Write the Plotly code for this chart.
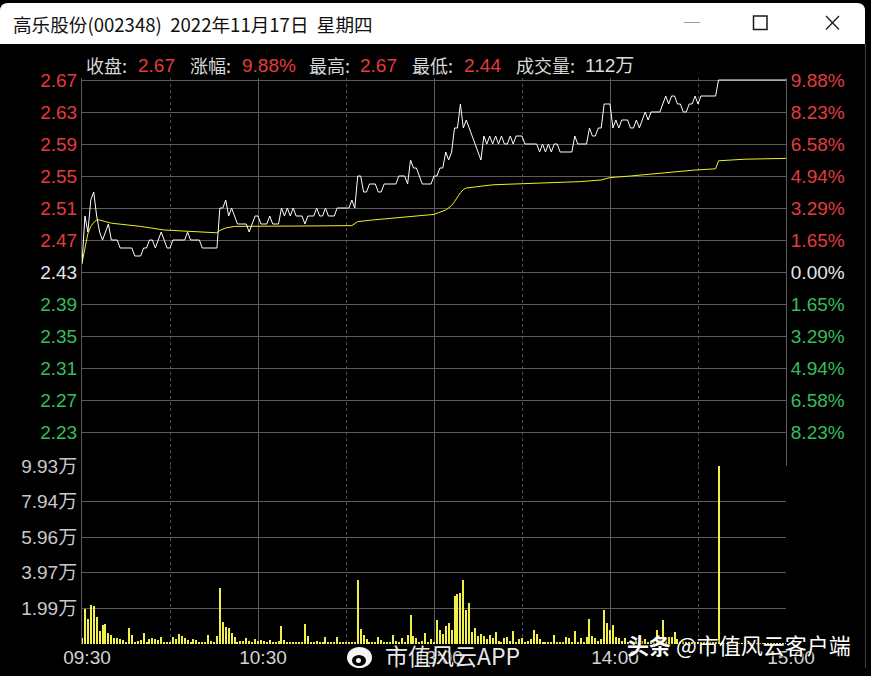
import plotly.graph_objects as go

# ---- data ----
minutes = list(range(241))

price = [
    2.44, 2.50, 2.48, 2.52, 2.53, 2.50, 2.48, 2.47, 2.48, 2.49,
    2.47, 2.47, 2.47, 2.46, 2.46, 2.46, 2.46, 2.46, 2.45, 2.45,
    2.45, 2.46, 2.46, 2.47, 2.47, 2.46, 2.47, 2.48, 2.47, 2.46,
    2.46, 2.47, 2.47, 2.47, 2.47, 2.47, 2.48, 2.47, 2.47, 2.47,
    2.47, 2.46, 2.46, 2.46, 2.46, 2.46, 2.46, 2.51, 2.51, 2.52,
    2.50, 2.51, 2.50, 2.49, 2.49, 2.49, 2.49, 2.48, 2.49, 2.50,
    2.50, 2.49, 2.49, 2.49, 2.50, 2.49, 2.49, 2.49, 2.51, 2.50,
    2.51, 2.50, 2.51, 2.50, 2.50, 2.50, 2.49, 2.50, 2.50, 2.50,
    2.51, 2.50, 2.50, 2.51, 2.50, 2.50, 2.50, 2.51, 2.51, 2.51,
    2.51, 2.51, 2.52, 2.51, 2.55, 2.55, 2.53, 2.53, 2.54, 2.54,
    2.54, 2.53, 2.53, 2.54, 2.54, 2.54, 2.54, 2.54, 2.55, 2.55,
    2.55, 2.54, 2.57, 2.56, 2.56, 2.55, 2.54, 2.54, 2.54, 2.54,
    2.55, 2.55, 2.56, 2.56, 2.58, 2.57, 2.58, 2.61, 2.61, 2.64,
    2.61, 2.62, 2.61, 2.60, 2.59, 2.58, 2.57, 2.60, 2.59, 2.60,
    2.59, 2.60, 2.59, 2.60, 2.59, 2.59, 2.60, 2.59, 2.60, 2.60,
    2.60, 2.59, 2.59, 2.59, 2.59, 2.59, 2.58, 2.59, 2.58, 2.59,
    2.58, 2.59, 2.59, 2.58, 2.58, 2.58, 2.58, 2.58, 2.60, 2.59,
    2.59, 2.59, 2.59, 2.61, 2.60, 2.60, 2.61, 2.61, 2.64, 2.64,
    2.64, 2.61, 2.62, 2.61, 2.62, 2.62, 2.62, 2.61, 2.61, 2.62,
    2.61, 2.62, 2.63, 2.62, 2.63, 2.63, 2.63, 2.63, 2.64, 2.65,
    2.64, 2.65, 2.65, 2.64, 2.64, 2.63, 2.63, 2.64, 2.64, 2.65,
    2.64, 2.65, 2.65, 2.65, 2.65, 2.65, 2.65, 2.67, 2.67, 2.67,
    2.67, 2.67, 2.67, 2.67, 2.67, 2.67, 2.67, 2.67, 2.67, 2.67,
    2.67, 2.67, 2.67, 2.67, 2.67, 2.67, 2.67, 2.67, 2.67, 2.67,
    2.67,
]

avg_minutes = [0, 1, 2, 3, 4, 5, 6, 8, 10, 15, 20, 28, 35, 40, 46, 47, 49, 52, 60, 75,
               92, 94, 99, 110, 120, 124, 126, 127, 128, 129, 130, 131, 140, 154, 170,
               177, 180, 187, 198, 209, 216, 217, 226, 240]
avg_price = [2.441, 2.462, 2.478, 2.487, 2.492, 2.495, 2.495, 2.493, 2.491, 2.489,
             2.487, 2.4825, 2.481, 2.480, 2.479, 2.482, 2.485, 2.487, 2.4875, 2.4875,
             2.488, 2.493, 2.495, 2.499, 2.502, 2.5075, 2.513, 2.518, 2.524, 2.529,
             2.533, 2.535, 2.539, 2.541, 2.543, 2.545, 2.548, 2.550, 2.554, 2.5575,
             2.559, 2.569, 2.571, 2.572]

# volume in 万 shares per minute
volume = [
    0.32, 1.93, 1.38, 2.18, 2.12, 1.49, 0.73, 1.06, 1.12, 0.63,
    0.50, 0.32, 0.32, 0.26, 0.22, 0.13, 0.87, 0.50, 0.13, 0.19,
    0.22, 0.60, 0.09, 0.26, 0.32, 0.26, 0.22, 0.37, 0.13, 0.09,
    0.13, 0.37, 0.26, 0.56, 0.45, 0.32, 0.22, 0.13, 0.26, 0.22,
    0.07, 0.07, 0.07, 0.50, 0.19, 0.13, 0.45, 3.12, 1.21, 0.97,
    0.87, 0.60, 0.41, 0.13, 0.19, 0.19, 0.32, 0.19, 0.13, 0.26,
    0.19, 0.22, 0.17, 0.13, 0.22, 0.09, 0.07, 0.17, 1.00, 0.22,
    0.13, 0.13, 0.07, 0.07, 0.07, 0.09, 1.12, 0.45, 0.13, 0.13,
    0.19, 0.13, 0.13, 0.37, 0.07, 0.07, 0.13, 0.37, 0.13, 0.07,
    0.07, 0.07, 0.09, 0.13, 3.57, 0.82, 0.50, 0.26, 0.13, 0.07,
    0.09, 0.37, 0.22, 0.07, 0.07, 0.13, 0.50, 0.19, 0.09, 0.32,
    0.07, 0.50, 1.62, 0.45, 0.32, 0.13, 0.19, 0.60, 0.13, 0.26,
    0.07, 1.34, 0.78, 0.56, 1.00, 1.15, 0.78, 2.68, 2.79, 2.83,
    3.57, 1.90, 2.27, 0.69, 0.87, 0.45, 0.56, 0.45, 0.26, 0.50,
    0.32, 0.67, 0.19, 0.13, 0.32, 0.41, 0.19, 0.73, 0.13, 0.26,
    0.32, 0.13, 0.19, 0.26, 0.78, 0.56, 0.26, 0.07, 0.13, 0.13,
    0.07, 0.50, 0.07, 0.07, 0.13, 0.37, 0.32, 0.13, 0.73, 0.13,
    0.32, 0.07, 0.41, 1.38, 0.45, 0.32, 0.19, 0.26, 1.90, 1.19,
    0.78, 1.06, 0.41, 0.32, 0.19, 0.32, 0.13, 0.19, 0.13, 0.22,
    0.13, 0.19, 0.26, 0.13, 0.19, 0.13, 0.78, 0.32, 1.34, 0.32,
    0.41, 0.41, 0.69, 0.26, 0.13, 0.19, 0.09, 0.13, 0.07, 0.13,
    0.09, 0.13, 0.07, 0.07, 0.09, 0.07, 0.07, 9.93, 0.04, 0.04,
    0.04, 0.04, 0.04, 0.04, 0.04, 0.04, 0.04, 0.04, 0.04, 0.04,
    0.04, 0.04, 0.04, 0.04, 0.04, 0.04, 0.04, 0.04, 0.04, 0.04,
    0.04,
]

prev_close = 2.43
price_ticks = [2.67, 2.63, 2.59, 2.55, 2.51, 2.47, 2.43, 2.39, 2.35, 2.31, 2.27, 2.23]
pct_labels = ['9.88%', '8.23%', '6.58%', '4.94%', '3.29%', '1.65%', '0.00%',
              '1.65%', '3.29%', '4.94%', '6.58%', '8.23%']
vol_ticks = [1.99, 3.97, 5.96, 7.94, 9.93]
vol_labels = ['1.99万', '3.97万', '5.96万', '7.94万', '9.93万']
time_ticks = [0, 60, 120, 180, 240]
time_labels = ['09:30', '10:30', '13:00', '14:00', '15:00']
half_ticks = [30, 90, 150, 210]

title_text = '高乐股份(002348)\u00a0\u00a02022年11月17日\u00a0\u00a0星期四'
info_labels = ['收盘:', '涨幅:', '最高:', '最低:', '成交量:']
info_values = ['2.67', '9.88%', '2.67', '2.44', '112万']

# ---- geometry / style ----
W, H = 871, 676
ML, MR, MT, MB = 82, 85, 78, 32
PW, PH = W - ML - MR, H - MT - MB

RED = '#e23c3c'
GREEN = '#35bd5c'
WHITE = '#e6e6e6'
GRID = '#5c5c5c'
NUM_FONT = 'Liberation Sans, Arial, sans-serif'
CJK_FONT = 'Noto Sans CJK SC, sans-serif'
MIX_FONT = 'Liberation Sans, Noto Sans CJK SC, sans-serif'


def px(x):
    return (x - ML) / PW


def py(y):
    return (H - MB - y) / PH


def tick_color(p):
    if p > prev_close + 1e-9:
        return RED
    if p < prev_close - 1e-9:
        return GREEN
    return WHITE


left_text = [f'<span style="color:{tick_color(p)}">{p:.2f}</span>' for p in price_ticks]
right_text = [f'<span style="color:{tick_color(p)}">{t}</span>' for p, t in zip(price_ticks, pct_labels)]

split = py(466)
k = 0.00125
price_range = [2.67 - (466 - 80) * k, 2.67 + 2 * k]

fig = go.Figure()

fig.add_trace(go.Bar(
    x = minutes, y = volume, width = 0.34,
    marker = dict(color = '#f0f048', line = dict(width = 0)),
    xaxis = 'x2', yaxis = 'y2', showlegend = False,
))

fig.add_trace(go.Scatter(
    x = avg_minutes, y = avg_price, mode = 'lines',
    line = dict(color = '#f0f020', width = 1),
    xaxis = 'x', yaxis = 'y', showlegend = False,
))

fig.add_trace(go.Scatter(
    x = minutes, y = price, mode = 'lines',
    line = dict(color = '#ffffff', width = 1),
    xaxis = 'x', yaxis = 'y', showlegend = False,
))

# invisible trace so the right-hand percent axis is drawn
fig.add_trace(go.Scatter(
    x = minutes, y = price, mode = 'lines', opacity = 0,
    xaxis = 'x', yaxis = 'y3', showlegend = False, hoverinfo = 'skip',
))

xcommon = dict(
    range = [0, 240], tickvals = time_ticks, showgrid = True,
    gridcolor = GRID, gridwidth = 1, zeroline = False, showline = False,
    minor = dict(tickvals = half_ticks, showgrid = True, gridcolor = '#4a4a4a',
                 griddash = 'dot', gridwidth = 1),
)

fig.update_layout(
    width = W, height = H,
    margin = dict(l = ML, r = MR, t = MT, b = MB, autoexpand = False),
    paper_bgcolor = '#000000', plot_bgcolor = '#000000',
    bargap = 0,
    xaxis = dict(xcommon, anchor = 'y', showticklabels = False, domain = [0, 1]),
    xaxis2 = dict(xcommon, anchor = 'y2', domain = [0, 1], ticktext = time_labels,
                  tickfont = dict(family = NUM_FONT, size = 19, color = '#d4d4d4'),
                  ticks = '', ticklabelstandoff = 0, ticklabelshift = 5),
    yaxis = dict(domain = [split, 1], range = price_range, tickvals = price_ticks,
                 ticktext = left_text, showgrid = True, gridcolor = GRID, zeroline = False,
                 showline = True, linecolor = GRID, ticks = '',
                 tickfont = dict(family = NUM_FONT, size = 19)),
    yaxis3 = dict(overlaying = 'y', side = 'right', anchor = 'x', range = price_range,
                  tickvals = price_ticks, ticktext = right_text, showgrid = False,
                  zeroline = False, showline = True, linecolor = GRID, ticks = '',
                  tickfont = dict(family = NUM_FONT, size = 19)),
    yaxis2 = dict(domain = [0, split], range = [0, 9.93], tickvals = vol_ticks,
                  ticktext = vol_labels, showgrid = True, gridcolor = GRID,
                  zeroline = False, showline = True, linecolor = GRID, ticks = '',
                  tickfont = dict(family = MIX_FONT, size = 19, color = '#c8c8cc')),
)

shapes = []
# title bar of the window
r = 8
x0, x1, y0, y1 = 0, 865, 3, 44
shapes.append(dict(
    type = 'path', xref = 'paper', yref = 'paper', fillcolor = '#ffffff', line = dict(width = 0),
    path = (f'M {px(x0)},{py(y1)} L {px(x0)},{py(y0 + r)} Q {px(x0)},{py(y0)} {px(x0 + r)},{py(y0)} '
            f'L {px(x1 - r)},{py(y0)} Q {px(x1)},{py(y0)} {px(x1)},{py(y0 + r)} L {px(x1)},{py(y1)} Z'),
))
# window controls
shapes.append(dict(type = 'line', xref = 'paper', yref = 'paper', x0 = px(684), x1 = px(700),
                   y0 = py(22.5), y1 = py(22.5), line = dict(color = '#9a9a9a', width = 1)))
shapes.append(dict(type = 'rect', xref = 'paper', yref = 'paper', x0 = px(753.5), x1 = px(767),
                   y0 = py(29.5), y1 = py(16), line = dict(color = '#1a1a1a', width = 1.5)))
shapes.append(dict(type = 'line', xref = 'paper', yref = 'paper', x0 = px(826), x1 = px(839),
                   y0 = py(16), y1 = py(29.5), line = dict(color = '#1a1a1a', width = 1.3)))
shapes.append(dict(type = 'line', xref = 'paper', yref = 'paper', x0 = px(826), x1 = px(839),
                   y0 = py(29.5), y1 = py(16), line = dict(color = '#1a1a1a', width = 1.3)))
# window right border
shapes.append(dict(type = 'line', xref = 'paper', yref = 'paper', x0 = px(865.5), x1 = px(865.5),
                   y0 = py(44), y1 = py(668), line = dict(color = '#3a3a3a', width = 1.2)))
# weibo logo of the watermark
shapes.append(dict(type = 'circle', xref = 'paper', yref = 'paper', x0 = px(347), x1 = px(372),
                   y0 = py(668), y1 = py(647), fillcolor = '#f4f4f4', line = dict(width = 0)))
shapes.append(dict(type = 'circle', xref = 'paper', yref = 'paper', x0 = px(352), x1 = px(366),
                   y0 = py(666), y1 = py(655), fillcolor = '#000000', line = dict(width = 0)))
shapes.append(dict(type = 'circle', xref = 'paper', yref = 'paper', x0 = px(356), x1 = px(361),
                   y0 = py(663), y1 = py(658), fillcolor = '#f4f4f4', line = dict(width = 0)))
fig.update_layout(shapes = shapes)

ann = []
ann.append(dict(text = title_text, x = px(11), y = py(23.5), xref = 'paper', yref = 'paper',
                xanchor = 'left', yanchor = 'middle', showarrow = False,
                font = dict(family = CJK_FONT, size = 18.6, color = '#111111')))

label_x = [84, 188, 307, 410, 514]
value_x = [136, 240, 358, 462, 583]
value_col = [RED, RED, RED, RED, '#dcdcdc']
for lab, lx, val, vx, vc in zip(info_labels, label_x, info_values, value_x, value_col):
    ann.append(dict(text = lab, x = px(lx), y = py(65), xref = 'paper', yref = 'paper',
                    xanchor = 'left', yanchor = 'middle', showarrow = False,
                    font = dict(family = CJK_FONT, size = 18, color = '#d8d8d8')))
    ann.append(dict(text = val, x = px(vx), y = py(65), xref = 'paper', yref = 'paper',
                    xanchor = 'left', yanchor = 'middle', showarrow = False,
                    font = dict(family = MIX_FONT, size = 19, color = vc)))

ann.append(dict(text = '市值风云APP', x = px(383), y = py(655), xref = 'paper', yref = 'paper',
                xanchor = 'left', yanchor = 'middle', showarrow = False,
                font = dict(family = CJK_FONT, size = 23, color = 'rgba(255,255,255,0.93)',
                            shadow = '1px 1px 2px #000')))
ann.append(dict(text = '<b>头条</b> @市值风云客户端', x = px(625), y = py(644), xref = 'paper',
                yref = 'paper', xanchor = 'left', yanchor = 'middle', showarrow = False,
                font = dict(family = CJK_FONT, size = 22, color = '#ffffff',
                            shadow = '1px 1px 2px #000')))
fig.update_layout(annotations = ann)

# the page itself gets no margin so the figure sits at the window's corner
fig.write_html('out.html', config = {'displayModeBar': False},
               post_script = "document.body.style.margin='0';"
                             "document.body.style.backgroundColor='#000';")
